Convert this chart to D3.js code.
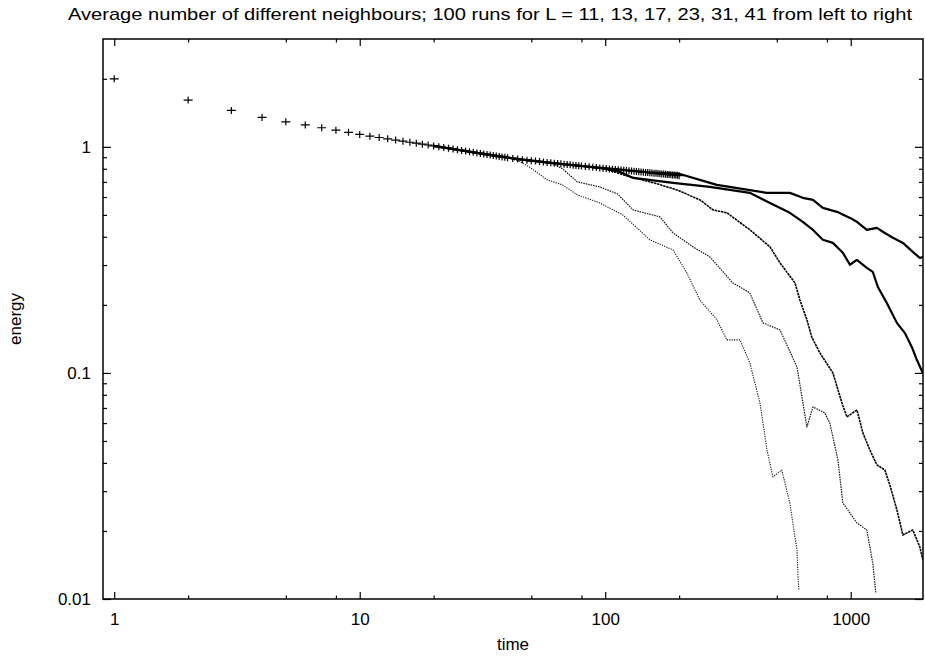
<!DOCTYPE html>
<html><head><meta charset="utf-8">
<script src="https://cdn.jsdelivr.net/npm/d3@7"></script>
<style>
body{margin:0;background:#fff}
text{font-family:"Liberation Sans",Arial,Helvetica,sans-serif;fill:#000}
</style>
</head><body>
<svg id="chart" width="925" height="657"></svg>
<script>
// ---------- data ----------
const titleText = "Average number of different neighbours; 100 runs for L = 11, 13, 17, 23, 31, 41 from left to right";
const xLabel = "time";
const yLabel = "energy";
const xMajorTicks = [1, 10, 100, 1000];
const xMinorTicks = [2, 5, 8, 20, 50, 80, 200, 500, 800];
const yMajorTicks = [0.01, 0.1, 1];
const yTickLabels = ["0.01", "0.1", "1"];
const yMinorTicks = [0.02,0.03,0.04,0.05,0.06,0.07,0.08,0.09,0.2,0.3,0.4,0.5,0.6,0.7,0.8,0.9,2];

// early-time points drawn with "+" markers
const plusT = [1,2,3,4,5,6,7,8,9,10,11,12,13,14,15,16,17,18,19,20,21,22,23,24,25,26,27,28,29,30,31,32,33,34,35,36,37,38,39,40,
  42,44,46,48,50,52,54,56,58,60,62,64,66,68,70,72,74,76,78,80,
  83,86,89,92,95,98,101,104,107,110,113,116,119,122,125,128,131,134,137,140,143,146,149,152,155,158,161,164,167,170,173,176,179,182,185,188,191,194,197,200];
const plusV = [2.00,1.61,1.45,1.35,1.29,1.25,1.215,1.185,1.16,1.135,1.115,1.10,1.085,1.072,1.06,1.048,1.038,1.028,1.019,1.01,
  1.001,0.993,0.985,0.978,0.971,0.964,0.958,0.952,0.946,0.940,0.935,0.929,0.924,0.920,0.915,0.910,0.906,0.902,0.899,0.896,
  0.889,0.883,0.878,0.873,0.869,0.865,0.861,0.857,0.853,0.850,0.847,0.844,0.841,0.838,0.835,0.833,0.830,0.828,0.825,0.823,
  0.819,0.816,0.813,0.810,0.807,0.804,0.802,0.799,0.797,0.795,0.792,0.790,0.788,0.786,0.784,0.782,0.780,0.778,0.777,0.775,
  0.773,0.771,0.770,0.768,0.767,0.765,0.764,0.762,0.761,0.759,0.758,0.756,0.755,0.754,0.753,0.751,0.750,0.749,0.748,0.746];

// L = 11
const tL11 = [20,30,40,45,49,58,67,77,95,118,152,189,215,243,285,313,354,388,427,456,482,524,565,581,604,610,615];
const vL11 = [1.01,0.94,0.896,0.86,0.816,0.715,0.679,0.613,0.565,0.50,0.388,0.350,0.277,0.210,0.172,0.140,0.140,0.111,0.0736,0.0456,0.0347,0.0372,0.0266,0.0217,0.0165,0.0125,0.011];
// L = 13
const tL13 = [20,30,45,60,67,77,95,112,130,167,189,228,267,331,388,439,515,604,663,702,784,822,887,929,1060,1163,1230,1265];
const vL13 = [1.01,0.94,0.88,0.85,0.80,0.70,0.665,0.62,0.526,0.490,0.416,0.361,0.326,0.250,0.226,0.1665,0.155,0.1063,0.0577,0.0707,0.0665,0.0601,0.0412,0.0266,0.0217,0.0202,0.0144,0.0107];
// L = 17
const tL17 = [20,30,45,60,80,100,122,160,196,243,275,313,388,469,515,593,621,663,694,749,846,921,965,1060,1121,1197,1278,1377,1443,1542,1631,1790,1912,1967];
const vL17 = [1.01,0.94,0.88,0.85,0.823,0.80,0.745,0.69,0.645,0.583,0.526,0.511,0.430,0.361,0.307,0.250,0.210,0.172,0.144,0.1226,0.100,0.0737,0.0639,0.0686,0.0543,0.0456,0.0392,0.0372,0.032,0.0248,0.0192,0.0202,0.017,0.0149];
// L = 23
const tL23 = [20,30,45,60,80,100,115,130,189,267,388,469,565,638,702,770,846,929,993,1060,1163,1230,1290,1403,1542,1663,1775,1861,1967];
const vL23 = [1.01,0.94,0.88,0.85,0.823,0.80,0.775,0.729,0.693,0.665,0.626,0.565,0.511,0.466,0.429,0.388,0.376,0.340,0.301,0.316,0.2915,0.280,0.240,0.204,0.1665,0.150,0.130,0.114,0.100];
// L = 31
const tL31 = [20,30,45,60,80,100,150,200,267,285,455,565,638,702,770,879,993,1060,1163,1278,1377,1486,1632,1790,1912,2000];
const vL31 = [1.01,0.94,0.88,0.85,0.823,0.805,0.772,0.76,0.693,0.679,0.626,0.626,0.595,0.583,0.537,0.516,0.485,0.466,0.429,0.438,0.416,0.396,0.376,0.343,0.323,0.326];

// ---------- chart ----------
const svg = d3.select("#chart");
const pLeft = 103, pRight = 923, pTop = 39, pBottom = 599;
const x = d3.scaleLog().domain([0.9, 1970]).range([pLeft, pRight]);
const y = d3.scaleLog().domain([0.01, 3]).range([pBottom, pTop]);

svg.append("defs").append("clipPath").attr("id", "clip")
  .append("rect").attr("x", pLeft).attr("y", pTop).attr("width", pRight - pLeft).attr("height", pBottom - pTop);

function styleAxis(g) {
  g.select(".domain").remove();
  g.selectAll(".tick line").attr("stroke", "#000").attr("stroke-width", 1.2);
  g.selectAll("text").style("font-size", "17px").attr("fill", "#000")
   .style("font-family", '"Liberation Sans", Arial, sans-serif');
}

// bottom
svg.append("g").attr("transform", `translate(0,${pBottom})`)
  .call(d3.axisBottom(x).tickValues(xMajorTicks).tickFormat(d3.format("d")).tickSizeInner(-7).tickSizeOuter(0).tickPadding(14))
  .call(styleAxis);
svg.append("g").attr("transform", `translate(0,${pBottom})`)
  .call(d3.axisBottom(x).tickValues(xMinorTicks).tickFormat("").tickSizeInner(-3.5).tickSizeOuter(0))
  .call(styleAxis);
// top
svg.append("g").attr("transform", `translate(0,${pTop})`)
  .call(d3.axisTop(x).tickValues(xMajorTicks).tickFormat("").tickSizeInner(-7).tickSizeOuter(0))
  .call(styleAxis);
svg.append("g").attr("transform", `translate(0,${pTop})`)
  .call(d3.axisTop(x).tickValues(xMinorTicks).tickFormat("").tickSizeInner(-3.5).tickSizeOuter(0))
  .call(styleAxis);
// left
svg.append("g").attr("transform", `translate(${pLeft},0)`)
  .call(d3.axisLeft(y).tickValues(yMajorTicks).tickFormat((d, i) => yTickLabels[i]).tickSizeInner(-8).tickSizeOuter(0).tickPadding(12))
  .call(styleAxis);
svg.append("g").attr("transform", `translate(${pLeft},0)`)
  .call(d3.axisLeft(y).tickValues(yMinorTicks).tickFormat("").tickSizeInner(-4).tickSizeOuter(0))
  .call(styleAxis);
// right
svg.append("g").attr("transform", `translate(${pRight},0)`)
  .call(d3.axisRight(y).tickValues(yMajorTicks).tickFormat("").tickSizeInner(-8).tickSizeOuter(0))
  .call(styleAxis);
svg.append("g").attr("transform", `translate(${pRight},0)`)
  .call(d3.axisRight(y).tickValues(yMinorTicks).tickFormat("").tickSizeInner(-4).tickSizeOuter(0))
  .call(styleAxis);

// frame
svg.append("rect").attr("x", pLeft).attr("y", pTop).attr("width", pRight - pLeft).attr("height", pBottom - pTop)
  .attr("fill", "none").attr("stroke", "#000").attr("stroke-width", 1.5);

// series
const plot = svg.append("g").attr("clip-path", "url(#clip)");
const line = d3.line().x(d => x(d.t)).y(d => y(d.v));
const series = [
  {t: tL11, v: vL11, w: 1.1, dash: "1.2,1.2", col: "#111"},
  {t: tL13, v: vL13, w: 1.2, dash: "1.5,1", col: "#111"},
  {t: tL17, v: vL17, w: 1.6, dash: "2.5,0.7", col: "#000"},
  {t: tL23, v: vL23, w: 2.2, dash: null, col: "#000"},
  {t: tL31, v: vL31, w: 2.2, dash: null, col: "#000"}
];
series.forEach(s => {
  const pts = s.t.map((t, i) => ({t, v: s.v[i]}));
  plot.append("path").datum(pts).attr("d", line)
    .attr("fill", "none").attr("stroke", s.col).attr("stroke-width", s.w)
    .attr("stroke-dasharray", s.dash).attr("stroke-linejoin", "round");
});

const plusPts = plusT.map((t, i) => ({t, v: plusV[i]}));
plot.append("g").selectAll("path").data(plusPts).join("path")
  .attr("d", d => `M${x(d.t) - 4.5},${y(d.v)}h9M${x(d.t)},${y(d.v) - 3.5}v7`)
  .attr("stroke", "#000").attr("stroke-width", 1.2).attr("fill", "none");

// texts
svg.append("text").attr("x", 490).attr("y", 20).attr("text-anchor", "middle")
  .attr("textLength", 844).attr("lengthAdjust", "spacingAndGlyphs")
  .style("font-size", "17px").text(titleText);
svg.append("text").attr("x", (pLeft + pRight) / 2).attr("y", 650).attr("text-anchor", "middle")
  .style("font-size", "17px").text(xLabel);
svg.append("text").attr("transform", `translate(21,${(pTop + pBottom) / 2}) rotate(-90)`)
  .attr("text-anchor", "middle").style("font-size", "17px").text(yLabel);
</script>
</body></html>
